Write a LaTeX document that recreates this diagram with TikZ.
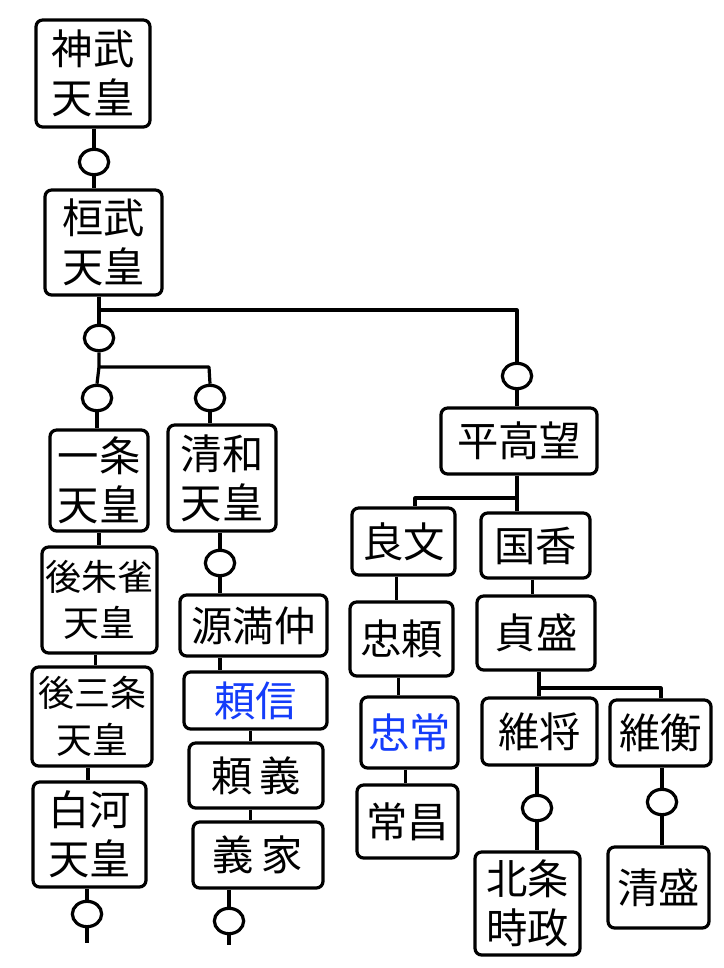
\documentclass[tikz,border=0pt]{standalone}
\usepackage{fontspec}
\newfontfamily\jp{Noto Sans CJK JP}
\usetikzlibrary{shapes.geometric}
\definecolor{inkblue}{RGB}{20,60,250}
\tikzset{
  box/.style={draw, line width=2.4pt, rounded corners=5pt, align=center, inner sep=0pt, font={\jp\fontsize{31}{37}\selectfont}},
  boxsm/.style={box, font={\jp\fontsize{27}{35}\selectfont}},
  knot/.style={draw, ellipse, line width=2.4pt, minimum width=22pt, minimum height=19pt, inner sep=0pt},
  link/.style={line width=2.4pt, line join=round}
}
\newcommand\bx[7][box]{\node[#1, minimum width={(#4-#2)*0.75pt}, minimum height={(#5-#3)*0.75pt}] (#6) at ({(#2+#4)/2},{(#3+#5)/2}) {#7};}
\begin{document}
\begin{tikzpicture}[x=0.75pt,y=-0.75pt]
\useasboundingbox (0,0) rectangle (724,968);
% left trunk
\bx{36}{20}{150}{127}{b1}{神武\\天皇}
\node[knot] (c1) at (94,162) {};
\bx{45}{190}{162}{295}{b2}{桓武\\天皇}
\coordinate (j1) at (99,310);
\coordinate (j1r) at (517,310);
\node[knot] (c2) at (99,338) {};
\coordinate (j2) at (99,367);
\coordinate (j2r) at (209,367);
\node[knot] (c3) at (97,398) {};
\node[knot] (c4) at (210,398) {};
\bx{50}{430}{148}{531}{b3}{一条\\天皇}
\bx{168}{425}{276}{531}{b4}{清和\\天皇}
\bx[boxsm]{42}{547}{157}{653}{b5}{後朱雀\\天皇}
\bx[boxsm]{32}{667}{152}{766}{b6}{後三条\\天皇}
\bx{33}{782}{146}{887}{b7}{白河\\天皇}
\node[knot] (c5) at (87,914) {};
\coordinate (e1) at (87,943);
\node[knot] (c6) at (220,563) {};
\bx{180}{595}{327}{656}{b8}{源満仲}
\bx{184}{672}{327}{729}{b9}{\textcolor{inkblue}{頼信}}
\bx{189}{743}{323}{808}{b10}{頼\hspace{5pt}義}
\bx{193}{822}{323}{888}{b11}{義\hspace{6pt}家}
\node[knot] (c7) at (229,921) {};
\coordinate (e2) at (229,945);
% right branch
\node[knot] (c8) at (517,376) {};
\bx{441}{408}{597}{474}{b12}{平高望}
\coordinate (j3) at (517,498);
\coordinate (j3l) at (415,498);
\bx{352}{508}{455}{575}{b13}{良文}
\bx{481}{513}{590}{578}{b14}{国香}
\bx{350}{602}{453}{676}{b15}{忠頼}
\bx{477}{596}{595}{670}{b16}{貞盛}
\bx{361}{697}{458}{768}{b17}{\textcolor{inkblue}{忠常}}
\bx{357}{785}{458}{858}{b18}{常昌}
\coordinate (j4) at (539,688);
\coordinate (j4r) at (661,688);
\bx{482}{698}{597}{765}{b19}{維将}
\bx{610}{700}{711}{766}{b20}{維衡}
\node[knot] (c9) at (537,808) {};
\bx{475}{852}{580}{955}{b21}{北条\\時政}
\node[knot] (c10) at (662,802) {};
\bx{608}{847}{709}{928}{b22}{清盛}
% connectors
\draw[link] (c1 |- b1.south) -- (c1.north);
\draw[link] (c1.south) -- (c1 |- b2.north);
\draw[link] (j1 |- b2.south) -- (j1) -- (j1r) -- (c8.north);
\draw[link] (j1) -- (c2.north);
\draw[link] (c2.south) -- (j2) -- (j2r) -- (c4.north);
\draw[link] (j2) -- (c3.north);
\draw[link] (c3.south) -- (c3 |- b3.north);
\draw[link] (c4.south) -- (c4 |- b4.north);
\draw[link] (b3.south) -- (b3.south |- b5.north);
\draw[link] ([xshift=-3pt]b5.south) -- ([xshift=-3pt]b5.south |- b6.north);
\draw[link] ([xshift=-3pt]b6.south) -- ([xshift=-3pt]b6.south |- b7.north);
\draw[link] (c5 |- b7.south) -- (c5.north);
\draw[link] (c5.south) -- (e1);
\draw[link] (c6 |- b4.south) -- (c6.north);
\draw[link] (c6.south) -- (c6 |- b8.north);
\draw[link] (c6 |- b8.south) -- (c6 |- b9.north);
\draw[link] ([xshift=-4pt]b9.south) -- ([xshift=-4pt]b9.south |- b10.north);
\draw[link] ([xshift=-4pt]b10.south) -- ([xshift=-4pt]b10.south |- b11.north);
\draw[link] (c7 |- b11.south) -- (c7.north);
\draw[link] (c7.south) -- (e2);
\draw[link] (c8.south) -- (c8 |- b12.north);
\draw[link] (j3 |- b12.south) -- (j3) -- (j3l) -- (j3l |- b13.north);
\draw[link] (j3) -- (j3 |- b14.north);
\draw[link] ([xshift=-5pt]b13.south) -- ([xshift=-5pt]b13.south |- b15.north);
\draw[link] ([xshift=-2pt]b14.south) -- ([xshift=-2pt]b14.south |- b16.north);
\draw[link] ([xshift=-2pt]b15.south) -- ([xshift=-2pt]b15.south |- b17.north);
\draw[link] ([xshift=-3pt]b17.south) -- ([xshift=-3pt]b17.south |- b18.north);
\draw[link] (j4 |- b16.south) -- (j4) -- (j4r) -- (j4r |- b20.north);
\draw[link] (j4) -- (j4 |- b19.north);
\draw[link] (c9 |- b19.south) -- (c9.north);
\draw[link] (c9.south) -- (c9 |- b21.north);
\draw[link] (c10 |- b20.south) -- (c10.north);
\draw[link] (c10.south) -- (c10 |- b22.north);
\end{tikzpicture}
\end{document}
